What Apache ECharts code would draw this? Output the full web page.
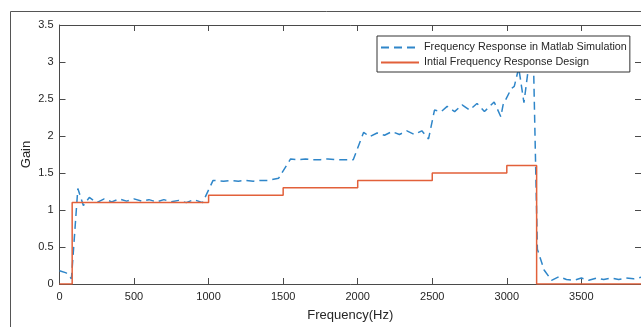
<!DOCTYPE html>
<html>
<head>
<meta charset="utf-8">
<script src="https://cdn.jsdelivr.net/npm/echarts@6/dist/echarts.min.js"></script>
<style>
html,body{margin:0;padding:0;background:#fff;}
#c{width:641px;height:327px;}
</style>
</head>
<body>
<div id="c"></div>
<script>
// Simulated response (Hz, gain)
const simFreq = [0, 45, 80, 123, 160, 200, 250, 300, 350, 400, 450, 500, 550, 600, 650, 700, 750, 800, 850, 900, 960,
  1030, 1100, 1150, 1200, 1250, 1300, 1350, 1400, 1470,
  1550, 1600, 1650, 1700, 1750, 1800, 1850, 1900, 1970,
  2040, 2080, 2130, 2180, 2230, 2280, 2330, 2380, 2430, 2475,
  2515, 2560, 2600, 2650, 2700, 2750, 2800, 2850, 2915, 2960, 2975, 3030, 3050, 3080, 3115, 3145, 3180,
  3205, 3250, 3300, 3350, 3400, 3450, 3500, 3550, 3600, 3650, 3700, 3750, 3800, 3850, 3900];
const simGain = [0.18, 0.15, 0.07, 1.29, 1.06, 1.17, 1.10, 1.15, 1.11, 1.15, 1.12, 1.15, 1.12, 1.14, 1.11, 1.14, 1.11, 1.13, 1.10, 1.14, 1.10,
  1.40, 1.39, 1.40, 1.39, 1.40, 1.39, 1.40, 1.40, 1.43,
  1.69, 1.68, 1.69, 1.68, 1.68, 1.69, 1.68, 1.68, 1.68,
  2.05, 1.99, 2.04, 2.01, 2.06, 2.02, 2.07, 2.02, 2.07, 1.96,
  2.35, 2.33, 2.40, 2.33, 2.42, 2.35, 2.44, 2.33, 2.46, 2.26, 2.42, 2.64, 2.67, 2.92, 2.45, 2.92, 2.90,
  0.47, 0.19, 0.05, 0.10, 0.06, 0.05, 0.08, 0.05, 0.08, 0.06, 0.08, 0.06, 0.08, 0.07, 0.09];
// Initial design (step corners)
const designFreq = [0, 85, 1000, 1500, 2000, 2500, 3000, 3200, 3900];
const designGain = [0, 1.1, 1.2, 1.3, 1.4, 1.5, 1.6, 0, 0];
const xTicks = [0, 500, 1000, 1500, 2000, 2500, 3000, 3500];
const yTicks = [0, 0.5, 1, 1.5, 2, 2.5, 3, 3.5];
const seriesNames = ['Frequency Response in Matlab Simulation', 'Intial Frequency Response Design'];

const axisCol = '#4a4a4a';
const txtCol = '#262626';
const font = 'Liberation Sans, Arial, sans-serif';

function tick() { return {show: true, inside: true, length: 6, lineStyle: {color: axisCol, width: 1}}; }
function line() { return {show: true, onZero: false, lineStyle: {color: axisCol, width: 1}}; }

const chart = echarts.init(document.getElementById('c'), null, {renderer: 'canvas'});
chart.setOption({
  animation: false,
  backgroundColor: '#fff',
  textStyle: {fontFamily: font},
  graphic: [{
    type: 'rect', z: -10,
    shape: {x: 10.5, y: 11.5, width: 800, height: 500},
    style: {fill: 'none', stroke: '#555', lineWidth: 1}
  }],
  grid: {left: 59.5, right: 0, top: 25, bottom: 43, containLabel: false, outerBoundsMode: 'none'},
  legend: {
    orient: 'vertical', left: 377, top: 36,
    data: seriesNames,
    backgroundColor: '#fff',
    borderColor: '#333', borderWidth: 1, borderRadius: 0,
    padding: [6, 3, 4, 3],
    itemWidth: 38, itemHeight: 11, itemGap: 4,
    itemStyle: {opacity: 0, color: 'rgba(0,0,0,0)', borderWidth: 0},
    textStyle: {fontSize: 10.8, color: txtCol, fontFamily: font},
    z: 20
  },
  xAxis: [
    {
      type: 'value', min: 0, max: 3900, interval: 500, position: 'bottom',
      axisLine: line(), axisTick: tick(), splitLine: {show: false},
      name: 'Frequency(Hz)', nameLocation: 'middle', nameGap: 25, nameMoveOverlap: false,
      nameTextStyle: {fontSize: 13, color: txtCol, fontFamily: font},
      axisLabel: {show: true, inside: false, margin: 7, fontSize: 11, color: txtCol, fontFamily: font, showMaxLabel: false,
        formatter: v => xTicks.includes(v) ? String(v) : ''}
    },
    {
      type: 'value', min: 0, max: 3900, interval: 500, position: 'top',
      axisLine: line(), axisTick: tick(), splitLine: {show: false}, axisLabel: {show: false}
    }
  ],
  yAxis: [
    {
      type: 'value', min: 0, max: 3.5, interval: 0.5, position: 'left',
      axisLine: line(), axisTick: tick(), splitLine: {show: false},
      name: 'Gain', nameLocation: 'middle', nameGap: 27, nameRotate: 90, nameMoveOverlap: false,
      nameTextStyle: {fontSize: 13, color: txtCol, fontFamily: font},
      axisLabel: {show: true, inside: false, margin: 6, fontSize: 11, color: txtCol, fontFamily: font,
        formatter: v => yTicks.includes(v) ? String(v) : ''}
    },
    {
      type: 'value', min: 0, max: 3.5, interval: 0.5, position: 'right',
      axisLine: line(), axisTick: tick(), splitLine: {show: false}, axisLabel: {show: false}
    }
  ],
  series: [
    {
      name: seriesNames[0], type: 'line', xAxisIndex: 0, yAxisIndex: 0,
      data: simFreq.map((f, i) => [f, simGain[i]]),
      showSymbol: false, symbol: 'none', smooth: false,
      lineStyle: {color: '#2f86c9', width: 1.5, type: [8, 5]},
      itemStyle: {color: '#2f86c9'},
      z: 2
    },
    {
      name: seriesNames[1], type: 'line', xAxisIndex: 0, yAxisIndex: 0,
      data: designFreq.map((f, i) => [f, designGain[i]]),
      step: 'end',
      showSymbol: false, symbol: 'none',
      lineStyle: {color: '#e2603a', width: 1.5},
      itemStyle: {color: '#e2603a'},
      z: 3
    }
  ]
});
</script>
</body>
</html>
